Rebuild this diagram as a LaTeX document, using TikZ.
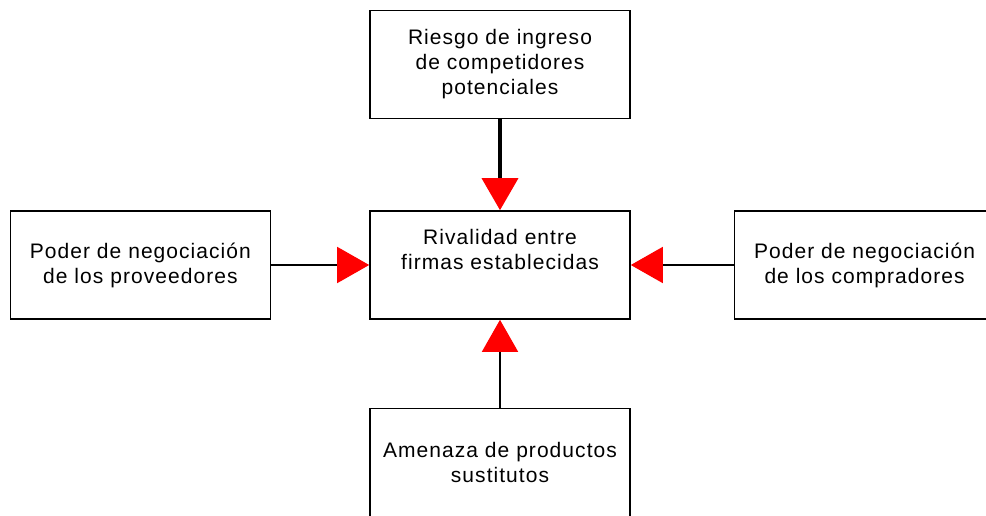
\documentclass[tikz,border=0pt]{standalone}
\usepackage{fontspec}
\setmainfont{Liberation Sans}[LetterSpace=5]
\usetikzlibrary{positioning,arrows.meta}

\begin{document}
\begin{tikzpicture}[
  x=1pt,
  y=1pt,
  node distance=90pt,
  fuerza/.style={
    draw=black,
    line width=1.6pt,
    minimum width=260pt,
    minimum height=108pt,
    align=center,
    font=\fontsize{21}{25}\selectfont
  },
  flecha/.style={
    line width=1.6pt,
    -{Triangle[width=36pt,length=32pt,color=red]}
  }
]

\useasboundingbox (0,0) rectangle (986,515);
\clip (0,0) rectangle (986,515);

\node[fuerza] (rivalidad) at (500,250) {Rivalidad entre\\firmas establecidas\\[6pt]};
\node[fuerza, above=91pt of rivalidad] (riesgo) {Riesgo de ingreso\\de competidores\\potenciales};
\node[fuerza, left=98pt of rivalidad] (proveedores) {Poder de negociación\\de los proveedores};
\node[fuerza, right=103pt of rivalidad] (compradores) {Poder de negociación\\de los compradores};
\node[fuerza, below=88pt of rivalidad] (sustitutos) {Amenaza de productos\\sustitutos};

\draw[flecha, line width=3.6pt] (riesgo) -- (rivalidad);
\draw[flecha] (proveedores) -- (rivalidad);
\draw[flecha] (compradores) -- (rivalidad);
\draw[flecha] (sustitutos) -- (rivalidad);

\end{tikzpicture}
\end{document}
